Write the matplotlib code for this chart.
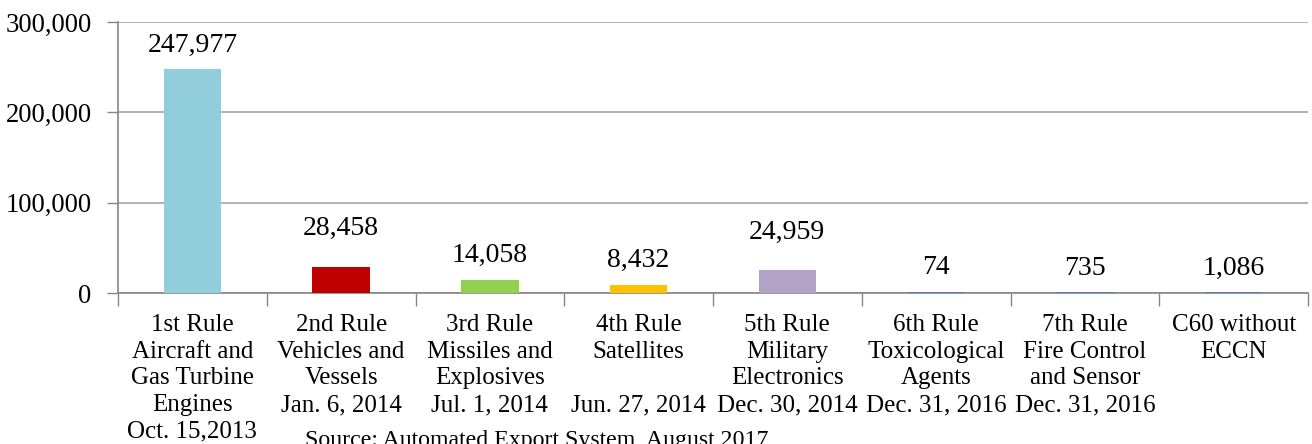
import matplotlib
matplotlib.use("Agg")
import matplotlib.pyplot as plt
from matplotlib.ticker import FuncFormatter
import numpy as np

categories = [
    "1st Rule\nAircraft and\nGas Turbine\nEngines\nOct. 15,2013",
    "2nd Rule\nVehicles and\nVessels\nJan. 6, 2014",
    "3rd Rule\nMissiles and\nExplosives\nJul. 1, 2014",
    "4th Rule\nSatellites\n\nJun. 27, 2014",
    "5th Rule\nMilitary\nElectronics\nDec. 30, 2014",
    "6th Rule\nToxicological\nAgents\nDec. 31, 2016",
    "7th Rule\nFire Control\nand Sensor\nDec. 31, 2016",
    "C60 without\nECCN",
]
values = [247977, 28458, 14058, 8432, 24959, 74, 735, 1086]
value_labels = ["247,977", "28,458", "14,058", "8,432", "24,959", "74", "735", "1,086"]
yticks = [0, 100000, 200000, 300000]

colors = ["#92CDDC", "#C00000", "#92D050", "#FFC000", "#B2A2C7", "#4F81BD", "#4F81BD", "#4F81BD"]
label_offsets_px = [24, 39, 25, 25, 38, 25, 24, 24]

plt.rcParams['font.family'] = ['Liberation Serif', 'DejaVu Serif']

fig = plt.figure(figsize=(13.12, 4.44), dpi=100)
ax = fig.add_axes([118/1312, 1-293/444, (1308-118)/1312, (293-22)/444])

x = np.arange(len(values))
ax.bar(x, values, width=0.385, color=colors, zorder=3)
min_h = 1500
# tiny bars visible as thin lines
for xi, v, c in zip(x, values, colors):
    if v < min_h:
        ax.bar(xi, min_h, width=0.385, color=c, zorder=3)

ax.set_xlim(-0.5, len(values) - 0.5)
ax.set_ylim(0, 300000)
ax.set_yticks(yticks)
ax.yaxis.set_major_formatter(FuncFormatter(lambda v, p: f"{int(v):,}"))
ax.tick_params(axis='y', labelsize=19.2, length=8, width=1, color='#868686', pad=11)
ax.grid(axis='y', color='#A6A6A6', linewidth=1.2, zorder=0)

ax.set_xticks(x)
ax.set_xticklabels(categories, fontsize=18, linespacing=1.28, va='top')
ax.tick_params(axis='x', length=0, pad=15)
ax.set_xticks(np.arange(len(values) + 1) - 0.5, minor=True)
ax.tick_params(axis='x', which='minor', length=9, width=1, color='#868686')

for s in ['top', 'right']:
    ax.spines[s].set_visible(False)
for s in ['left', 'bottom']:
    ax.spines[s].set_color('#868686')
    ax.spines[s].set_linewidth(1.2)

for xi, v, lab, off in zip(x, values, value_labels, label_offsets_px):
    ax.annotate(lab, (xi, v), xytext=(0, off * 0.72), textcoords='offset points',
                ha='center', va='center', fontsize=20)

fig.text(537/1312, 1-430/444, "Source: Automated Export System, August 2017",
         ha='center', va='top', fontsize=17.2)

fig.savefig("out.png", dpi=100)
